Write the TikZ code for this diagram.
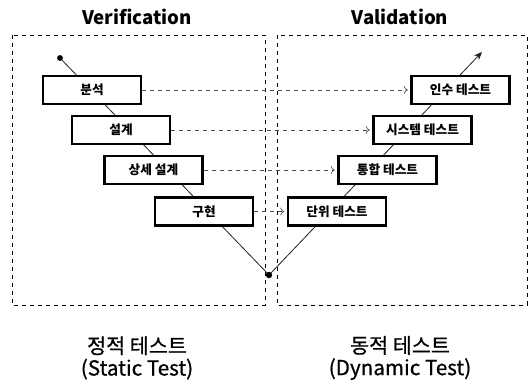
\documentclass[tikz,border=0pt]{standalone}
\usepackage{fontspec}
\setmainfont{Noto Sans CJK KR}
\newfontfamily\capfont[FakeBold=0.7]{Noto Sans CJK KR}
\usetikzlibrary{arrows.meta, positioning, calc}

\begin{document}
\begin{tikzpicture}[x=0.75pt, y=-0.75pt,
  vbox/.style={draw=black, line width=1.6pt, fill=white, minimum width=73.5pt, minimum height=21pt, inner sep=0pt, font=\fontsize{9.5}{11}\selectfont\bfseries},
  frame/.style={draw=black, dashed, line width=0.6pt},
  trace/.style={draw=gray!60!black, dashed, line width=0.5pt, shorten >=2pt, -{To[length=3pt,width=6pt]}},
  vline/.style={draw=gray!25!black, line width=0.6pt},
  title/.style={font=\fontsize{14}{16}\selectfont\bfseries},
  caption/.style={font=\fontsize{15.5}{16.5}\selectfont\capfont, align=center}
]
  \useasboundingbox (0,0) rectangle (530,385);

  % the two halves
  \draw[frame] (12,35) rectangle (265,305);
  \draw[frame] (277,35) rectangle (527,305);
  \node[title] (ver) at (137,17) {Verification};
  \node[title] (val) at (400,17) {Validation};

  % the V
  \coordinate (start) at (60,58);
  \coordinate (bottom) at (269,275);
  \coordinate (top) at (482,52);
  \draw[vline] (start) -- (bottom);
  \draw[vline, -{Stealth[length=6pt,width=5pt]}] (bottom) -- (top);
  \fill (start) circle (2.2pt);
  \fill (bottom) circle (2.4pt);

  % left side
  \node[vbox] (analysis) at (92,90) {분석};
  \node[vbox] (design) at (121,130) {설계};
  \node[vbox] (detail) at (153.5,170) {상세 설계};
  \node[vbox] (impl) at (204,211.5) {구현};

  % right side
  \node[vbox] (accept) at (460.5,90) {인수 테스트};
  \node[vbox] (system) at (422.5,130) {시스템 테스트};
  \node[vbox] (integ) at (387.5,170) {통합 테스트};
  \node[vbox] (unit) at (337,211.5) {단위 테스트};

  \draw[trace] (analysis) -- (accept);
  \draw[trace] (design) -- (system);
  \draw[trace] (detail) -- (integ);
  \draw[trace] (impl) -- (unit);

  \node[caption] (static) at (137,358) {정적 테스트\\(Static Test)};
  \node[caption] (dynamic) at (400,358) {동적 테스트\\(Dynamic Test)};
\end{tikzpicture}
\end{document}
